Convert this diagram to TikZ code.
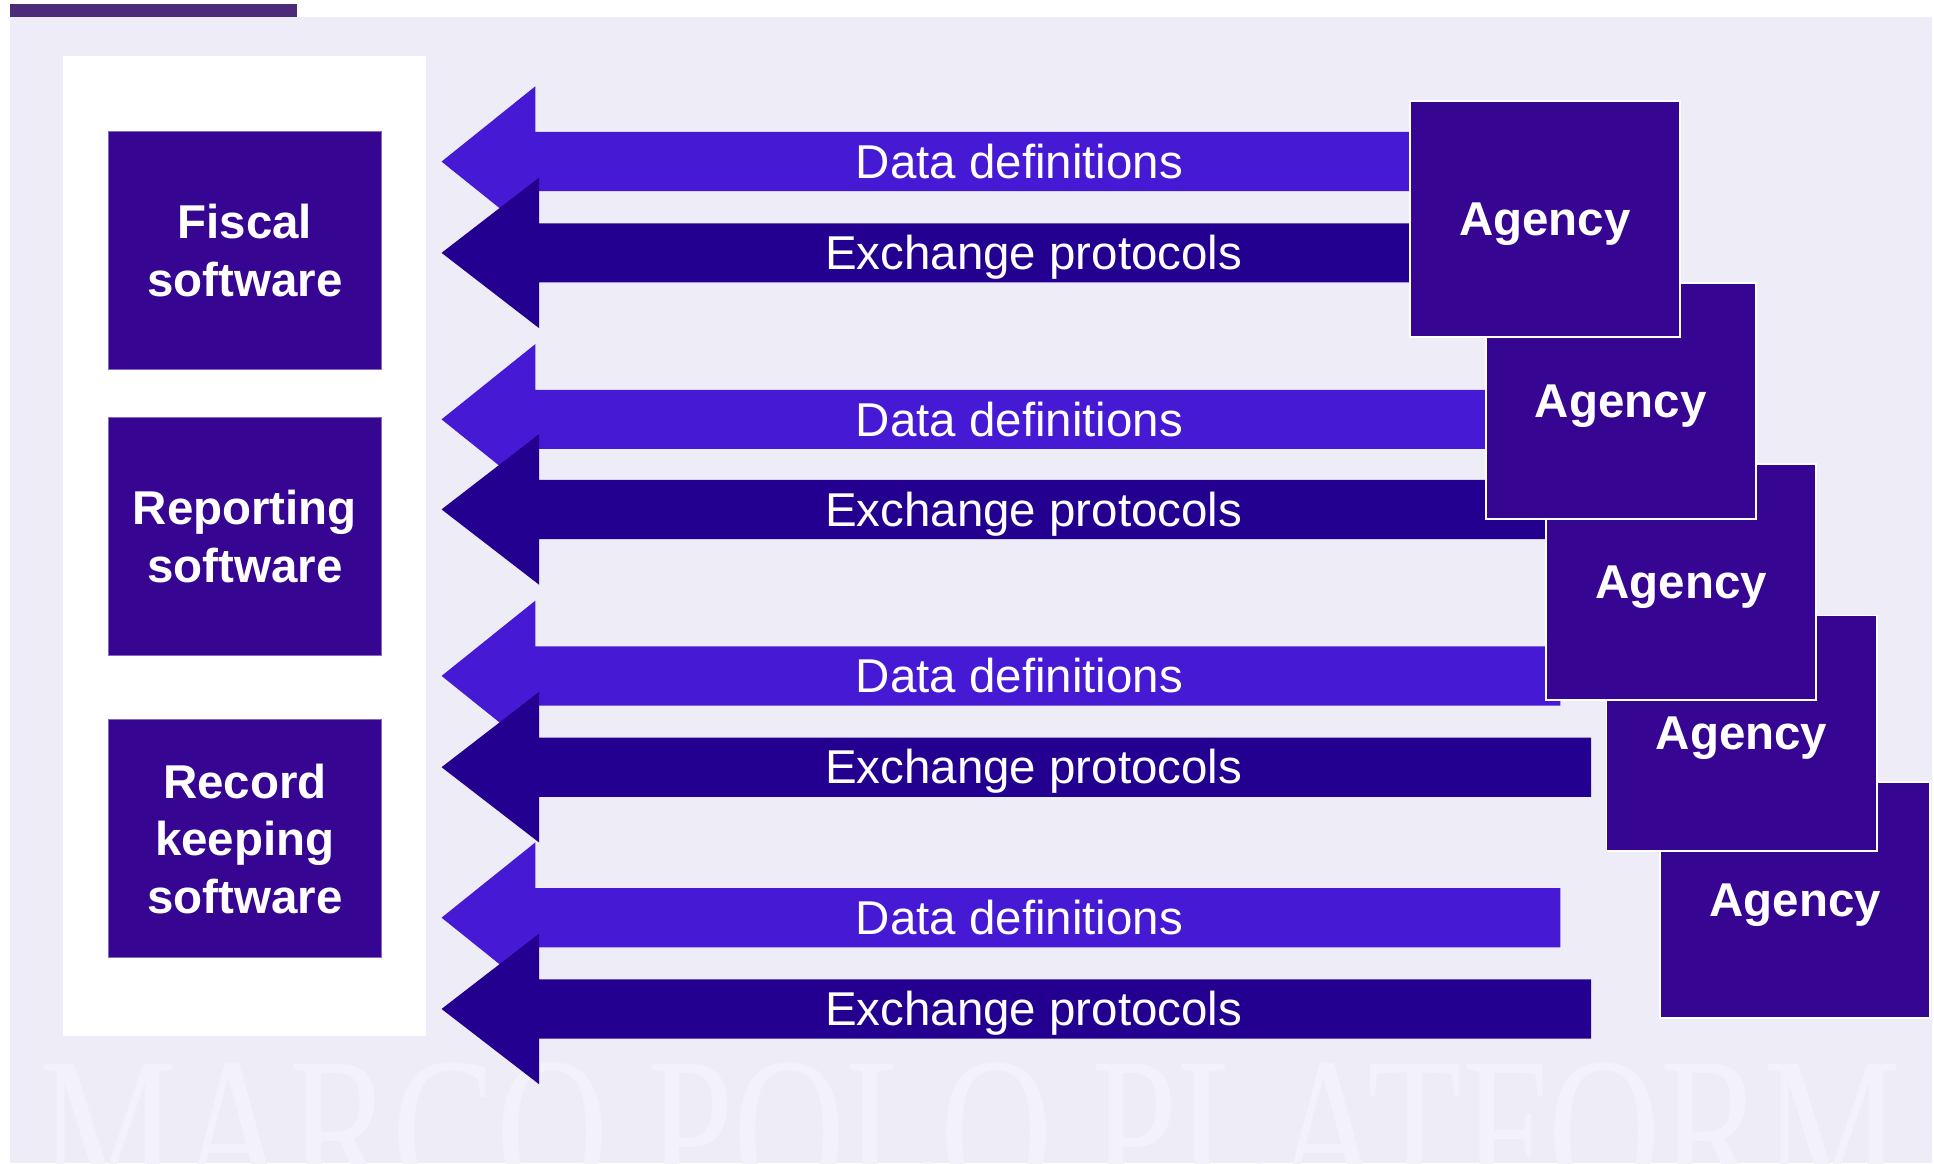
\documentclass[tikz,border=0pt]{standalone}
\usepackage{fontspec}
\setmainfont{Liberation Sans}
\newfontfamily\wmfont{Liberation Serif}
\usetikzlibrary{calc}
\definecolor{bgc}{RGB}{238,236,247}
\definecolor{barc}{RGB}{75,44,120}
\definecolor{boxc}{RGB}{54,5,145}
\definecolor{lightarr}{RGB}{70,25,213}
\definecolor{darkarr}{RGB}{35,0,144}
\definecolor{wmc}{RGB}{243,242,250}
\tikzset{
  softbox/.style={fill=boxc, draw=boxc!60!white, line width=0.8pt, minimum width=221pt, minimum height=193pt, inner sep=0pt, text=white, align=center, font=\fontsize{38.5}{46.5}\selectfont\bfseries},
  agencybox/.style={fill=boxc, draw=white, line width=1.5pt, minimum width=219pt, minimum height=191pt, inner sep=0pt, text=white, text depth=0pt, font=\fontsize{38.5}{46.5}\selectfont\bfseries},
  arrowtext/.style={text=white, anchor=base, inner sep=0pt, font=\fontsize{38.5}{46.5}\selectfont},
  lightflow/.style={fill=lightarr},
  darkflow/.style={fill=darkarr}
}
% #1 name, #2 centre y, #3 end x, #4 style, #5 head back x, #6 label x, #7 label
\newcommand\flowarrow[7]{%
  \coordinate (#1tip) at (358,#2);
  \coordinate (#1end) at (#3,#2);
  \fill[#4] (#1tip) -- ($(#1tip -| #5,0)+(0,-61)$) -- ($(#1tip -| #5,0)+(0,-24)$)
     -- ($(#1end)+(0,-24)$) -- ($(#1end)+(0,24)$) -- ($(#1tip -| #5,0)+(0,24)$)
     -- ($(#1tip -| #5,0)+(0,61)$) -- cycle;
  \node[arrowtext] (#1lab) at (#6,#2+13.5) {#7};
}
\begin{document}
\begin{tikzpicture}[x=1pt,y=-1pt]
\useasboundingbox (0,0) rectangle (1568,943);
\fill[white] (0,0) rectangle (1568,943);
\fill[bgc] (8,14) rectangle (1566,943);
\fill[barc] (8,3.5) rectangle (241,13.5);
\begin{scope}
\clip (8,14) rectangle (1566,943);
\node[text=wmc, inner sep=0pt, anchor=north, xscale=0.74, font=\fontsize{170}{170}\selectfont\wmfont] (wm) at (787,861) {MARCO POLO PLATFORM};
\end{scope}
\fill[white] (51,45) rectangle (345,840);
\node[softbox] (fiscal) at (198.5,203) {Fiscal\\software};
\node[softbox, minimum height=193pt] (report) at (198.5,435) {Reporting\\software};
\node[softbox] (record) at (198.5,680) {Record\\keeping\\software};
% arrows
\flowarrow{d1}{131}{1145}{lightflow}{434}{826.5}{Data definitions}
\flowarrow{x1}{205}{1145}{darkflow}{437}{838}{Exchange protocols}
\flowarrow{d2}{340}{1206}{lightflow}{434}{826.5}{Data definitions}
\flowarrow{x2}{413}{1255}{darkflow}{437}{838}{Exchange protocols}
\flowarrow{d3}{548}{1265}{lightflow}{434}{826.5}{Data definitions}
\flowarrow{x3}{622}{1290}{darkflow}{437}{838}{Exchange protocols}
\flowarrow{d4}{744}{1265}{lightflow}{434}{826.5}{Data definitions}
\flowarrow{x4}{818}{1290}{darkflow}{437}{838}{Exchange protocols}
% agencies (back to front)
\node[agencybox] (ag5) at (1455.5,729.5) {Agency};
\node[agencybox] (ag4) at (1412,594.5) {Agency};
\node[agencybox] (ag3) at (1363,472) {Agency};
\node[agencybox] (ag2) at (1314,325) {Agency};
\node[agencybox] (ag1) at (1252.5,177.5) {Agency};
\end{tikzpicture}
\end{document}
